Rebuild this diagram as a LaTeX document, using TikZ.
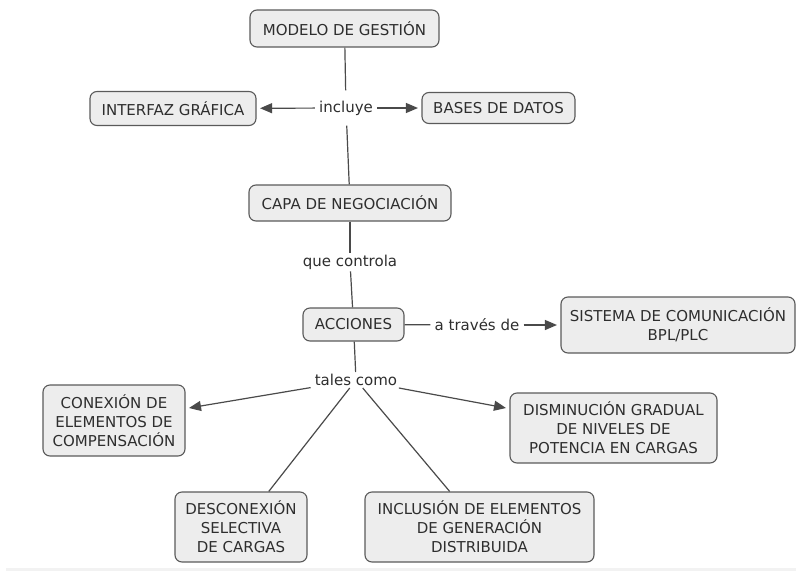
\documentclass[tikz,border=0pt]{standalone}
\usepackage{fontspec}
\setmainfont{DejaVu Sans}
\usetikzlibrary{arrows.meta}
\definecolor{Ink}{HTML}{2E2E2E}
\definecolor{Edge}{HTML}{4A4A4A}
\definecolor{Frame}{HTML}{5A5A5A}
\definecolor{Pale}{HTML}{EDEDED}
\definecolor{Strip}{HTML}{F2F2F2}
\tikzset{
  >={Triangle[length=12pt,width=10pt]},
  cpt/.style={rectangle,rounded corners=7pt,draw=Frame,line width=1.1pt,fill=Pale,
    text=Ink,align=center,inner xsep=6pt,inner ysep=4pt,font=\fontsize{15}{19}\selectfont},
  linkph/.style={fill=white,text=Ink,inner xsep=4pt,inner ysep=2pt,font=\fontsize{15}{19}\selectfont},
  conn/.style={draw=Edge,line width=1.2pt},
  arr/.style={conn,->,shorten >=3.5pt}
}
\begin{document}
\begin{tikzpicture}[x=1pt,y=-1pt]
  \useasboundingbox (0,0) rectangle (796,571);
  \fill[Strip] (6,568) rectangle (796,571);
  % concepts
  \node[cpt,minimum width=189pt,minimum height=37pt] (modelo) at (344.5,28.5) {MODELO DE GESTIÓN};
  \node[cpt,minimum width=166pt,minimum height=34pt] (interfaz) at (173,108.5) {INTERFAZ GRÁFICA};
  \node[cpt,minimum width=153pt,minimum height=31pt] (bases) at (498.5,108) {BASES DE DATOS};
  \node[cpt,minimum width=202pt,minimum height=36pt] (capa) at (350,203) {CAPA DE NEGOCIACIÓN};
  \node[cpt,minimum width=101pt,minimum height=33pt] (acciones) at (353.5,324.5) {ACCIONES};
  \node[cpt,minimum width=234pt,minimum height=56pt] (sistema) at (678,325) {SISTEMA DE COMUNICACIÓN\\BPL/PLC};
  \node[cpt,minimum width=142pt,minimum height=71pt] (conexion) at (114,420.5) {CONEXIÓN DE\\ELEMENTOS DE\\COMPENSACIÓN};
  \node[cpt,minimum width=207pt,minimum height=70pt] (disminucion) at (613.5,428) {DISMINUCIÓN GRADUAL\\DE NIVELES DE\\POTENCIA EN CARGAS};
  \node[cpt,minimum width=132pt,minimum height=70pt] (desconexion) at (241,527) {DESCONEXIÓN\\SELECTIVA\\DE CARGAS};
  \node[cpt,minimum width=229pt,minimum height=70pt] (inclusion) at (479.5,527) {INCLUSIÓN DE ELEMENTOS\\DE GENERACIÓN\\DISTRIBUIDA};
  % linking phrases
  \node[linkph,minimum height=35pt] (incl) at (346,108) {incluye};
  \node[linkph] (qctrl) at (350,262) {que controla};
  \node[linkph] (atrav) at (477,325) {a través de};
  \node[linkph] (tales) at (356,380) {tales como};
  % connectors
  \draw[conn] (modelo) -- (incl);
  \draw[arr] (incl) -- (interfaz);
  \draw[arr] (incl) -- (bases);
  \draw[conn] (incl) -- (capa);
  \draw[conn] (capa) -- (qctrl);
  \draw[conn] (qctrl) -- (acciones);
  \draw[conn] (acciones) -- (atrav);
  \draw[arr] (atrav) -- (sistema);
  \draw[conn] (acciones) -- (tales);
  \draw[arr] (tales) -- (conexion);
  \draw[arr] (tales) -- (disminucion);
  \draw[conn] (tales) -- (desconexion);
  \draw[conn] (tales) -- (inclusion);
\end{tikzpicture}
\end{document}
